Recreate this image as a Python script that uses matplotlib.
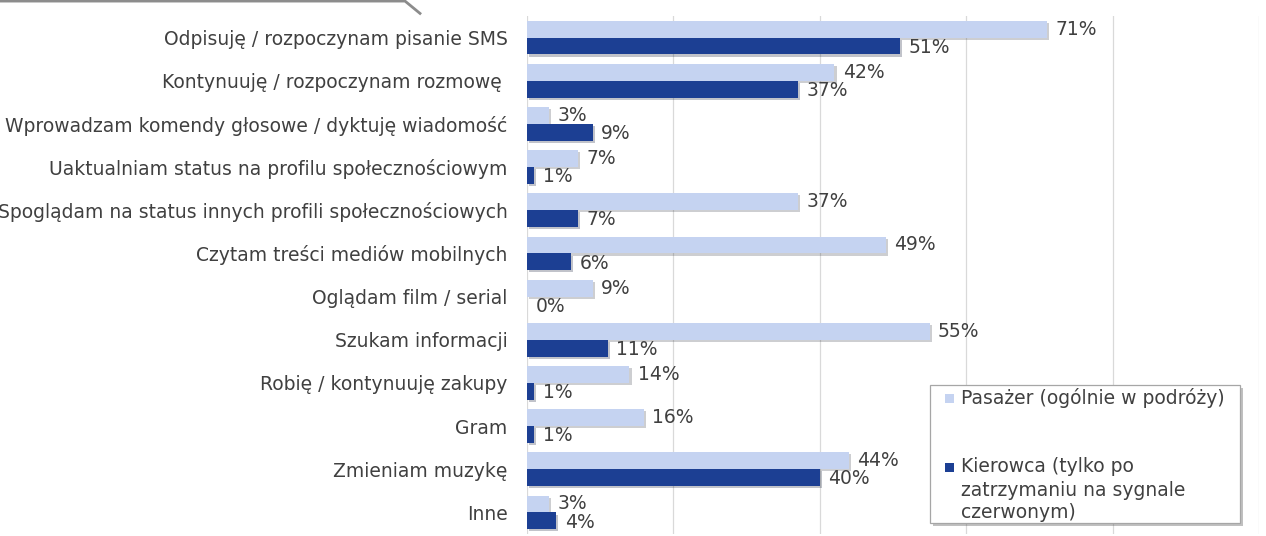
import matplotlib.pyplot as plt
import matplotlib.patheffects as pe
from matplotlib.lines import Line2D
from matplotlib.patches import Rectangle
import numpy as np

# Dane z wykresu
kategorie = [
    'Odpisuję / rozpoczynam pisanie SMS',
    'Kontynuuję / rozpoczynam rozmowę ',
    'Wprowadzam komendy głosowe / dyktuję wiadomość',
    'Uaktualniam status na profilu społecznościowym',
    'Spoglądam na status innych profili społecznościowych',
    'Czytam treści mediów mobilnych',
    'Oglądam film / serial',
    'Szukam informacji',
    'Robię / kontynuuję zakupy',
    'Gram',
    'Zmieniam muzykę',
    'Inne',
]
pasazer = [71, 42, 3, 7, 37, 49, 9, 55, 14, 16, 44, 3]
kierowca = [51, 37, 9, 1, 7, 6, 0, 11, 1, 1, 40, 4]

etykieta_pasazer = 'Pasażer (ogólnie w podróży)'
etykieta_kierowca = 'Kierowca (tylko po\nzatrzymaniu na sygnale\nczerwonym)'

kolor_jasny = '#C5D3F1'
kolor_ciemny = '#1C3F93'
kolor_tekstu = '#404040'
fs = 13.5

plt.rcParams['font.family'] = ['DejaVu Sans']

W, H = 1266, 536
fig = plt.figure(figsize=(W / 100, H / 100), dpi=100)


def px(x, y):
    # piksele -> współrzędne figury
    return x / W, 1 - y / H


ax = fig.add_axes([527 / W, 1 - 534 / H, (1259 - 527) / W, 518 / H])

y = np.arange(len(kategorie))
h = 0.39
cien = [pe.SimplePatchShadow(offset=(1.5, -1.5), alpha=0.25), pe.Normal()]

ax.barh(y - h / 2, pasazer, height=h, color=kolor_jasny, path_effects=cien, zorder=3)
ax.barh(y + h / 2, kierowca, height=h, color=kolor_ciemny, path_effects=cien, zorder=3)

for i in range(len(kategorie)):
    ax.annotate(f'{pasazer[i]}%', (pasazer[i], y[i] - h / 2), xytext=(6, 0),
                textcoords='offset points', va='center', ha='left',
                fontsize=fs, color=kolor_tekstu, zorder=4)
    ax.annotate(f'{kierowca[i]}%', (kierowca[i], y[i] + h / 2 + 0.03), xytext=(6, 0),
                textcoords='offset points', va='center', ha='left',
                fontsize=fs, color=kolor_tekstu, zorder=4)

ax.set_xlim(0, 100)
ax.set_ylim(len(kategorie) - 0.5, -0.5)
ax.set_yticks(y)
ax.set_yticklabels(kategorie, fontsize=fs, color=kolor_tekstu)
ax.set_xticks([0, 20, 40, 60, 80, 100])
ax.tick_params(axis='x', length=0, labelbottom=False)
ax.tick_params(axis='y', length=0, pad=14)
ax.grid(axis='x', color='#D9D9D9', linewidth=0.9, zorder=0)
for s in ax.spines.values():
    s.set_visible(False)

# legenda rysowana ręcznie (znacznik przy pierwszej linii tekstu)
x0, y0 = px(930, 523)
x1, y1 = px(1240, 385)
ramka = Rectangle((x0, y0), x1 - x0, y1 - y0, transform=fig.transFigure,
                  facecolor='white', edgecolor='#A6A6A6', linewidth=0.9, zorder=10,
                  path_effects=[pe.SimplePatchShadow(offset=(2.5, -2.5), alpha=0.35), pe.Normal()])
fig.add_artist(ramka)
for kolor, etykieta, yy in [(kolor_jasny, etykieta_pasazer, 398),
                            (kolor_ciemny, etykieta_kierowca, 467)]:
    sx, sy = px(945, yy + 4.5)
    fig.add_artist(Rectangle((sx, sy), 9 / W, 9 / H, transform=fig.transFigure,
                             facecolor=kolor, edgecolor='none', zorder=11))
    tx, ty = px(961, yy)
    fig.text(tx, ty, etykieta.split('\n')[0], fontsize=fs, color=kolor_tekstu,
             va='center', ha='left', zorder=11)
    for k, linia in enumerate(etykieta.split('\n')[1:], start=1):
        tx, ty = px(961, yy + 23 * k)
        fig.text(tx, ty, linia, fontsize=fs, color=kolor_tekstu,
                 va='center', ha='left', zorder=11)

# szara linia ramki slajdu u góry
fig.add_artist(Line2D([0, 405 / W, 420 / W], [0.998, 0.998, 0.975],
                      color='#8C8C8C', linewidth=2))

fig.savefig('out.png', dpi=100)
